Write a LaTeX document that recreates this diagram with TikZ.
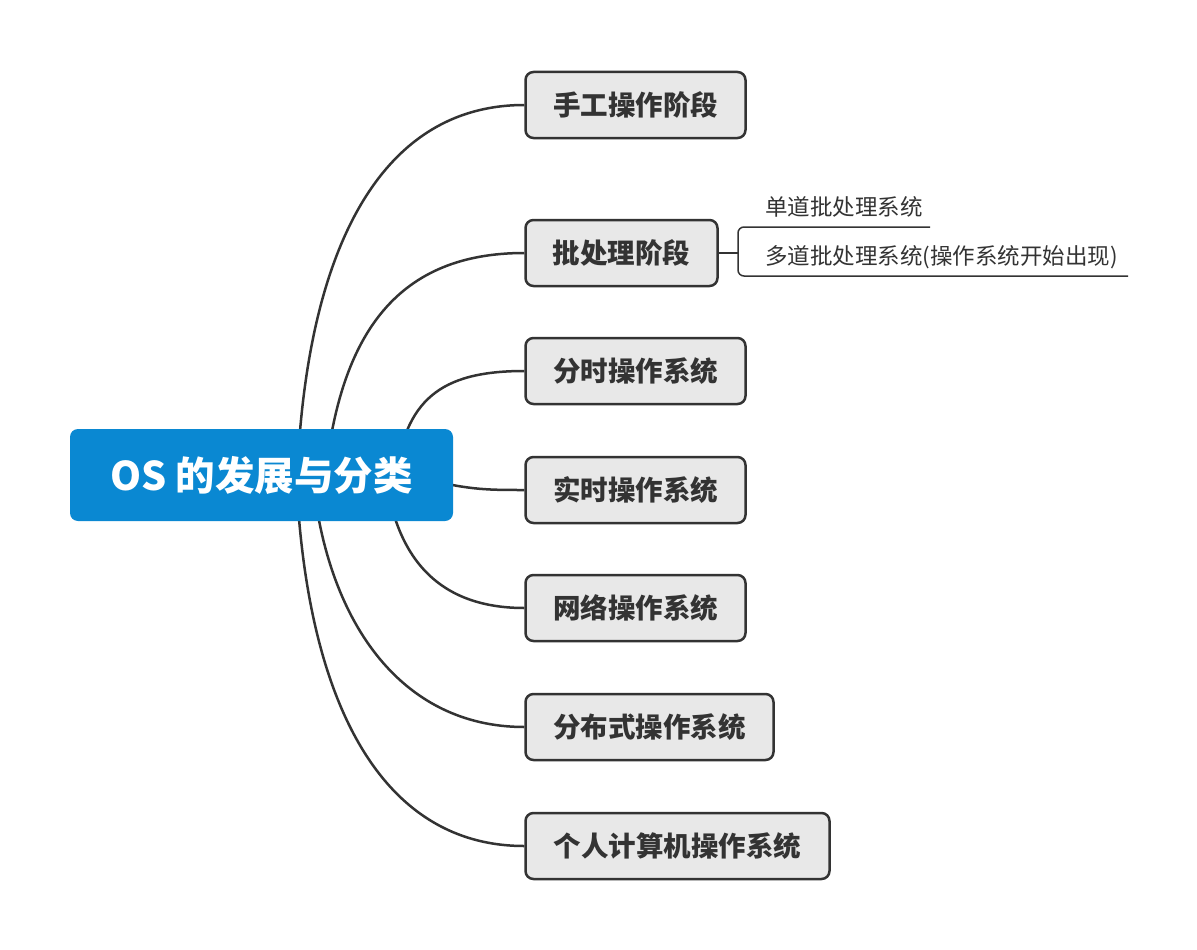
\documentclass[tikz,border=0pt]{standalone}
\usepackage{fontspec}
\setmainfont{Noto Sans CJK SC}
\usetikzlibrary{backgrounds}
\definecolor{rootblue}{HTML}{0A88D2}
\definecolor{boxgray}{HTML}{E8E8E8}
\definecolor{ink}{HTML}{333333}
\begin{document}
\begin{tikzpicture}[x=1pt,y=-1pt,
  rootbox/.style={fill=rootblue, rounded corners=8pt, minimum width=383pt, minimum height=92pt, text=white, font=\fontsize{39.5}{42}\selectfont\bfseries, inner sep=0pt},
  childbox/.style={draw=ink, line width=2.5pt, fill=boxgray, rounded corners=8pt, minimum height=66pt, inner sep=0pt, text=ink, font=\fontsize{27.5}{30}\selectfont\bfseries},
  conn/.style={draw=ink, line width=2.5pt},
  subtext/.style={text=ink, font=\fontsize{22.5}{24}\selectfont, inner sep=0pt, anchor=west},
  subline/.style={draw=ink, line width=1.5pt}]
\useasboundingbox (0,0) rectangle (1197,950);

\node[rootbox] (root) at (261.5,475) {OS 的发展与分类};

\node[childbox, minimum width=220pt] (c1) at (635.5,105) {手工操作阶段};
\node[childbox, minimum width=192pt] (c2) at (621.5,253) {批处理阶段};
\node[childbox, minimum width=220pt] (c3) at (635.5,371) {分时操作系统};
\node[childbox, minimum width=220pt] (c4) at (635.5,490) {实时操作系统};
\node[childbox, minimum width=220pt] (c5) at (635.5,608) {网络操作系统};
\node[childbox, minimum width=248pt] (c6) at (649.5,727) {分布式操作系统};
\node[childbox, minimum width=304pt] (c7) at (677.5,846) {个人计算机操作系统};

\coordinate (s1) at (297,480);
\coordinate (s2) at (325,480);
\coordinate (s3) at (395,480);
\coordinate (s4) at (430,480);
\coordinate (s5) at (385,470);
\coordinate (s6) at (312,470);
\coordinate (s7) at (296,470);

\begin{pgfonlayer}{background}
\draw[conn] (s1) .. controls (306,250) and (380,105) .. (c1.west);
\draw[conn] (s2) .. controls (340,330) and (400,253) .. (c2.west);
\draw[conn] (s3) .. controls (405,400) and (440,371) .. (c3.west);
\draw[conn] (s4) .. controls (470,490) and (490,490) .. (c4.west);
\draw[conn] (s5) .. controls (395,560) and (440,608) .. (c5.west);
\draw[conn] (s6) .. controls (325,620) and (400,727) .. (c6.west);
\draw[conn] (s7) .. controls (305,700) and (380,846) .. (c7.west);
\end{pgfonlayer}

\node[subtext] (sa) at (765,207) {单道批处理系统};
\node[subtext] (sb) at (765,257) {多道批处理系统(操作系统开始出现)};

\coordinate (bk) at (738,253);
\coordinate (ta) at (930,227);
\coordinate (tb) at (1128,276);
\draw[subline] (c2.east) -- (bk);
\draw[subline, rounded corners=6pt] (ta) -- (bk |- ta) -- (bk |- tb) -- (tb);
\end{tikzpicture}
\end{document}
